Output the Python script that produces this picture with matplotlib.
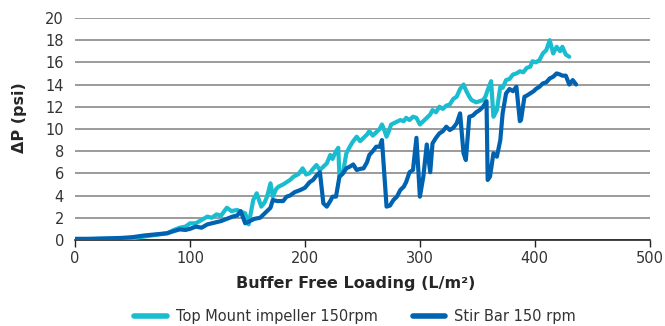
import matplotlib
matplotlib.use("Agg")
import matplotlib.pyplot as plt

# Top Mount impeller, 150 rpm
top_x = [0, 10, 20, 30, 40, 50, 60, 70, 80, 86, 91, 96, 100, 105, 110, 115, 119, 123, 127, 132,
         136, 141, 145, 148, 151, 155, 158, 162, 165, 167, 170, 172, 175, 177, 181, 184, 187, 190,
         194, 198, 201, 204, 207, 210, 213, 216, 219, 222, 224, 227, 229, 230, 233, 236, 239, 242,
         245, 248, 251, 254, 256, 259, 262, 265, 267, 269, 271, 273, 275, 279, 283, 286, 288, 291,
         294, 297, 300, 303, 306, 309, 311, 314, 317, 320, 323, 326, 329, 332, 335, 338, 340, 343,
         345, 349, 352, 355, 357, 359, 362, 364, 367, 370, 372, 375, 378, 381, 384, 387, 390, 393,
         396, 398, 401, 404, 407, 410, 413, 416, 419, 422, 424, 427, 430]
top_y = [0.05, 0.05, 0.1, 0.1, 0.1, 0.15, 0.3, 0.45, 0.6, 0.9, 1.1, 1.2, 1.5, 1.5, 1.8, 2.1, 2.0,
         2.3, 2.2, 2.9, 2.6, 2.7, 2.5, 2.4, 1.4, 3.6, 4.2, 3.0, 3.4, 3.9, 5.1, 3.9, 4.6, 4.8, 5.0,
         5.2, 5.4, 5.7, 5.9, 6.45, 5.9, 6.0, 6.4, 6.75, 6.3, 6.6, 6.9, 7.65, 7.3, 8.0, 8.3, 5.7,
         6.0, 7.8, 8.4, 8.9, 9.3, 8.9, 9.2, 9.5, 9.8, 9.4, 9.7, 10.0, 10.4, 9.9, 9.3, 9.8, 10.4,
         10.6, 10.8, 10.7, 11.0, 10.8, 11.1, 11.0, 10.4, 10.7, 11.0, 11.3, 11.7, 11.5, 12.0, 11.8,
         12.1, 12.2, 12.7, 12.9, 13.6, 14.0, 13.5, 12.9, 12.6, 12.4, 12.5, 12.6, 12.9, 13.5, 14.3,
         11.1, 11.7, 13.8, 13.7, 14.4, 14.5, 14.9, 15.0, 15.2, 15.1, 15.5, 15.6, 16.1, 16.0, 16.2,
         16.8, 17.1, 18.0, 16.8, 17.4, 17.0, 17.4, 16.7, 16.5]

# Stir Bar, 150 rpm
stir_x = [0, 10, 20, 30, 40, 50, 60, 70, 80, 86, 91, 96, 100, 105, 110, 115, 119, 123, 127, 132,
          137, 141, 144, 148, 152, 156, 161, 165, 170, 172, 176, 181, 184, 187, 191, 196, 200, 204,
          207, 210, 213, 216, 219, 222, 224, 227, 230, 233, 236, 239, 242, 245, 248, 251, 254, 256,
          259, 262, 265, 267, 271, 274, 277, 280, 283, 286, 288, 291, 294, 297, 300, 303, 306, 309,
          311, 314, 317, 320, 323, 326, 329, 332, 335, 338, 340, 343, 346, 349, 352, 355, 358, 359,
          361, 364, 367, 370, 372, 375, 378, 381, 384, 387, 388, 391, 393, 396, 399, 401, 404, 407,
          410, 413, 416, 419, 422, 424, 427, 430, 433, 436]
stir_y = [0.1, 0.1, 0.12, 0.15, 0.18, 0.25, 0.4, 0.5, 0.6, 0.8, 0.95, 0.9, 1.0, 1.2, 1.1, 1.4,
          1.5, 1.6, 1.7, 1.9, 2.1, 2.2, 2.6, 1.5, 1.7, 1.9, 2.0, 2.4, 2.9, 3.6, 3.5, 3.5, 3.9, 4.0,
          4.3, 4.5, 4.7, 5.2, 5.4, 5.8, 6.1, 3.3, 3.0, 3.5, 3.9, 3.9, 5.7, 6.0, 6.45, 6.6, 6.8, 6.3,
          6.4, 6.45, 7.0, 7.65, 8.0, 8.4, 8.4, 9.0, 3.0, 3.1, 3.6, 3.9, 4.5, 4.8, 5.2, 6.1, 6.3,
          9.2, 3.9, 5.7, 8.6, 6.1, 8.7, 9.2, 9.6, 9.8, 10.2, 9.9, 10.1, 10.5, 11.4, 7.8, 7.2, 11.1,
          11.2, 11.5, 11.7, 12.0, 12.5, 5.4, 5.7, 7.8, 7.5, 9.0, 11.4, 13.2, 13.6, 13.4, 13.8,
          10.7, 10.8, 12.9, 13.0, 13.2, 13.4, 13.6, 13.8, 14.1, 14.2, 14.55, 14.7, 15.0, 14.9, 14.8,
          14.8, 14.0, 14.4, 14.0]

series_names = ["Top Mount impeller 150rpm", "Stir Bar 150 rpm"]
series_colors = ["#1ABDD0", "#0063B1"]

x_ticks = [0, 100, 200, 300, 400, 500]
y_ticks = list(range(0, 21, 2))

fig = plt.figure(figsize=(6.65, 3.26), dpi=100)
ax = fig.add_axes([0.113, 0.264, 0.864, 0.681])

ax.plot(top_x, top_y, color=series_colors[0], lw=3.0, solid_joinstyle="round",
        solid_capstyle="round", label=series_names[0], zorder=3)
ax.plot(stir_x, stir_y, color=series_colors[1], lw=3.0, solid_joinstyle="round",
        solid_capstyle="round", label=series_names[1], zorder=4)

ax.set_xlim(0, 500)
ax.set_ylim(0, 20)
ax.set_xticks(x_ticks)
ax.set_yticks(y_ticks)

ax.yaxis.grid(True, color="#8a8a8a", lw=1.2)
ax.set_axisbelow(True)
for side in ("left", "right", "top"):
    ax.spines[side].set_visible(False)
ax.spines["bottom"].set_color("#222222")
ax.spines["bottom"].set_linewidth(1.2)
ax.tick_params(axis="y", length=0, labelsize=10.5, labelcolor="#333333", pad=8)
ax.tick_params(axis="x", length=5, width=1.0, color="#222222", labelsize=10.5,
               labelcolor="#333333", pad=3)

ax.set_xlabel("Buffer Free Loading (L/m²)", fontsize=11.5, fontweight="bold",
              color="#262626", va="center")
ax.xaxis.set_label_coords(0.488, -0.194)
ax.set_ylabel("ΔP (psi)", fontsize=11.5, fontweight="bold", color="#262626", va="center")
ax.yaxis.set_label_coords(-0.096, 0.55)

leg = fig.legend(loc="center", bbox_to_anchor=(0.534, 0.028), ncol=2, frameon=False,
                 fontsize=10.5, handlelength=2.25, handletextpad=0.6, columnspacing=2.4,
                 borderpad=0, borderaxespad=0)
for line in leg.get_lines():
    line.set_linewidth(4)
for t in leg.get_texts():
    t.set_color("#333333")

fig.savefig("out.png", dpi=100)
